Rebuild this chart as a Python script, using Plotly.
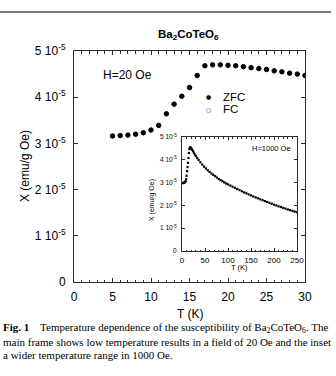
import numpy as np
import plotly.graph_objects as go

# ---------------- data ----------------
# Main frame: H = 20 Oe (susceptibility in units of 1e-5 emu/g Oe)
T_main = [5, 6, 7, 8, 9, 10, 11, 12, 13, 14, 15, 16, 17, 18, 19, 20,
          21, 22, 23, 24, 25, 26, 27, 28, 29, 30]
zfc_main = [3.16, 3.17, 3.18, 3.20, 3.23, 3.29, 3.39, 3.64, 3.85, 4.02, 4.21,
            4.47, 4.68, 4.70, 4.70, 4.69, 4.68, 4.66, 4.64, 4.62, 4.60, 4.57,
            4.55, 4.52, 4.50, 4.47]
fc_main = [3.16, 3.17, 3.18, 3.20, 3.23, 3.29, 3.39, 3.64, 3.85, 4.02, 4.21,
           4.47, 4.68, 4.70, 4.70, 4.69, 4.68, 4.66, 4.64, 4.62, 4.60, 4.57,
           4.55, 4.52, 4.50, 4.47]

# Inset: H = 1000 Oe
T_inset = [2, 3, 4, 5, 6, 7, 8, 9, 10, 11, 12, 13, 14, 15, 16, 17, 18, 19, 20,
           21, 22, 24, 26, 28, 30, 33, 36, 40, 44, 48, 52, 56, 60, 64, 68, 72,
           76, 80, 84, 88, 92, 96, 100, 105, 110, 115, 120, 125, 130, 135, 140,
           145, 150, 155, 160, 165, 170, 175, 180, 185, 190, 195, 200, 205, 210,
           215, 220, 225, 230, 235, 240, 245, 250]
chi_inset = [2.98, 2.98, 2.99, 3.00, 3.01, 3.03, 3.07, 3.15, 3.30, 3.50, 3.68,
             3.87, 4.08, 4.30, 4.47, 4.53, 4.54, 4.53, 4.50, 4.47, 4.44, 4.38,
             4.30, 4.23, 4.17, 4.08, 3.99, 3.89, 3.79, 3.70, 3.62, 3.54, 3.47,
             3.40, 3.34, 3.28, 3.22, 3.16, 3.11, 3.06, 3.01, 2.96, 2.92, 2.87,
             2.82, 2.77, 2.72, 2.67, 2.62, 2.57, 2.53, 2.48, 2.44, 2.39, 2.35,
             2.31, 2.27, 2.23, 2.19, 2.15, 2.11, 2.07, 2.03, 2.00, 1.96, 1.93,
             1.89, 1.86, 1.82, 1.79, 1.76, 1.73, 1.70]

x_ticks_main = [0, 5, 10, 15, 20, 25, 30]
x_ticks_inset = [0, 50, 100, 150, 200, 250]
y_tick_vals = [0, 1e-5, 2e-5, 3e-5, 4e-5, 5e-5]
y_tick_text = ["0", "1 10<sup>-5</sup>", "2 10<sup>-5</sup>", "3 10<sup>-5</sup>",
               "4 10<sup>-5</sup>", "5 10<sup>-5</sup>"]

SCALE = 1e-5
zfc_vals = np.array(zfc_main) * SCALE
fc_vals = np.array(fc_main) * SCALE
inset_vals = np.array(chi_inset) * SCALE

# ---------------- layout helpers (pixel -> paper) ----------------
W, H = 336, 376
L, R, TOP, BOT = 74, 305, 51, 282


def pxx(p):
    return (p - L) / (R - L)


def pxy(p):
    return (BOT - p) / (BOT - TOP)


SANS = "Liberation Sans, Arial, sans-serif"
SERIF = "Liberation Serif, Times New Roman, serif"
LINE = "#2a2a2a"

fig = go.Figure()

fig.add_trace(go.Scatter(
    x=T_main, y=fc_vals, mode="markers", name="FC",
    marker=dict(symbol="circle-open", size=4.5, color="black", line=dict(width=1)),
    showlegend=False, xaxis="x", yaxis="y"))
fig.add_trace(go.Scatter(
    x=T_main, y=zfc_vals, mode="markers", name="ZFC",
    marker=dict(symbol="circle", size=4.5, color="black"),
    showlegend=False, xaxis="x", yaxis="y"))
fig.add_trace(go.Scatter(
    x=T_inset, y=inset_vals, mode="markers", name="H=1000 Oe",
    marker=dict(symbol="square", size=2.2, color="black"),
    showlegend=False, xaxis="x2", yaxis="y2"))

common = dict(showline=True, linecolor=LINE, linewidth=1, mirror="ticks",
              ticks="inside", tickcolor=LINE, showgrid=False, zeroline=False)

fig.update_layout(
    width=W, height=H,
    margin=dict(l=L, r=W - R, t=TOP, b=H - BOT),
    paper_bgcolor="white", plot_bgcolor="white",
    font=dict(family=SANS, color="black"),
    xaxis=dict(domain=[0, 1], anchor="y", range=[0, 30], tickvals=x_ticks_main,
               ticklen=4, tickwidth=1,
               minor=dict(dtick=1, ticks="inside", ticklen=2.5, tickcolor=LINE),
               tickfont=dict(size=12, family=SANS, color="black"),
               ticklabelstandoff=4, **common),
    yaxis=dict(domain=[0, 1], anchor="x", range=[0, 5e-5], tickvals=y_tick_vals,
               ticktext=y_tick_text, ticklen=4, tickwidth=1,
               tickfont=dict(size=12, family=SANS, color="black"),
               ticklabelstandoff=5, **common),
    xaxis2=dict(domain=[pxx(182), pxx(297)], anchor="y2", range=[0, 250],
                tickvals=x_ticks_inset, ticklen=3, tickwidth=1,
                minor=dict(dtick=10, ticks="inside", ticklen=1.5, tickcolor=LINE),
                tickfont=dict(size=8, family=SANS, color="black"),
                ticklabelstandoff=1, **common),
    yaxis2=dict(domain=[pxy(251), pxy(137)], anchor="x2", range=[0, 5e-5],
                tickvals=y_tick_vals, ticktext=y_tick_text, ticklen=3, tickwidth=1,
                tickfont=dict(size=6.5, family=SANS, color="black"),
                ticklabelstandoff=3, **common),
)

BLACK = "black"
ann = []
# title
ann.append(dict(x=pxx(188), y=pxy(35), xref="paper", yref="paper",
                text="<b>Ba<sub>2</sub>CoTeO<sub>6</sub></b>", showarrow=False,
                font=dict(size=11.5, family=SANS, color=BLACK),
                xanchor="center", yanchor="middle"))
# axis titles
ann.append(dict(x=pxx(190), y=pxy(314), xref="paper", yref="paper", text="T (K)",
                showarrow=False, font=dict(size=12, family=SANS, color=BLACK),
                xanchor="center", yanchor="middle"))
ann.append(dict(x=pxx(25), y=pxy(166), xref="paper", yref="paper", text="X (emu/g Oe)",
                showarrow=False, textangle=-90, font=dict(size=12, family=SANS, color=BLACK),
                xanchor="center", yanchor="middle"))
ann.append(dict(x=pxx(239), y=pxy(267), xref="paper", yref="paper", text="T (K)",
                showarrow=False, font=dict(size=7.5, family=SANS, color=BLACK),
                xanchor="center", yanchor="middle"))
ann.append(dict(x=pxx(152), y=pxy(200), xref="paper", yref="paper", text="X (emu/g Oe)",
                showarrow=False, textangle=-90, font=dict(size=7, family=SANS, color=BLACK),
                xanchor="center", yanchor="middle"))
# in-plot labels
ann.append(dict(x=pxx(101), y=pxy(75), xref="paper", yref="paper", text="H=20 Oe",
                showarrow=False, font=dict(size=12, family=SANS, color=BLACK),
                xanchor="left", yanchor="middle"))
ann.append(dict(x=pxx(293), y=pxy(148), xref="paper", yref="paper", text="H=1000 Oe",
                showarrow=False, font=dict(size=7.5, family=SANS, color=BLACK),
                xanchor="right", yanchor="middle"))
# legend (symbol + label)
ann.append(dict(x=pxx(208), y=pxy(96.5), xref="paper", yref="paper", text="\u25cf",
                showarrow=False, font=dict(size=6, family="DejaVu Sans", color=BLACK),
                xanchor="center", yanchor="middle"))
ann.append(dict(x=pxx(208), y=pxy(109), xref="paper", yref="paper", text="\u25cb",
                showarrow=False, font=dict(size=6, family="DejaVu Sans", color=BLACK),
                xanchor="center", yanchor="middle"))
ann.append(dict(x=pxx(221), y=pxy(96.5), xref="paper", yref="paper", text="ZFC",
                showarrow=False, font=dict(size=11.5, family=SANS, color=BLACK),
                xanchor="left", yanchor="middle"))
ann.append(dict(x=pxx(221), y=pxy(109), xref="paper", yref="paper", text="FC",
                showarrow=False, font=dict(size=11.5, family=SANS, color=BLACK),
                xanchor="left", yanchor="middle"))
# caption
cap = [
    "<b>Fig. 1</b>\u00a0\u00a0\u00a0 Temperature dependence of the susceptibility of "
    "Ba<sub>2</sub>CoTeO<sub>6</sub>. The",
    "main frame shows low temperature results in a field of 20 Oe and the inset",
    "a wider temperature range in 1000 Oe.",
]
for line, yp in zip(cap, [328, 342, 355]):
    ann.append(dict(x=pxx(1), y=pxy(yp), xref="paper", yref="paper", text=line,
                    showarrow=False, font=dict(size=11, family=SERIF, color=BLACK),
                    xanchor="left", yanchor="middle"))
fig.update_layout(annotations=ann)

# top rule
fig.add_shape(type="line", xref="paper", yref="paper",
              x0=pxx(0), x1=pxx(331), y0=pxy(12), y1=pxy(12),
              line=dict(color="#7a7a7a", width=2))

fig.write_html("out.html")
